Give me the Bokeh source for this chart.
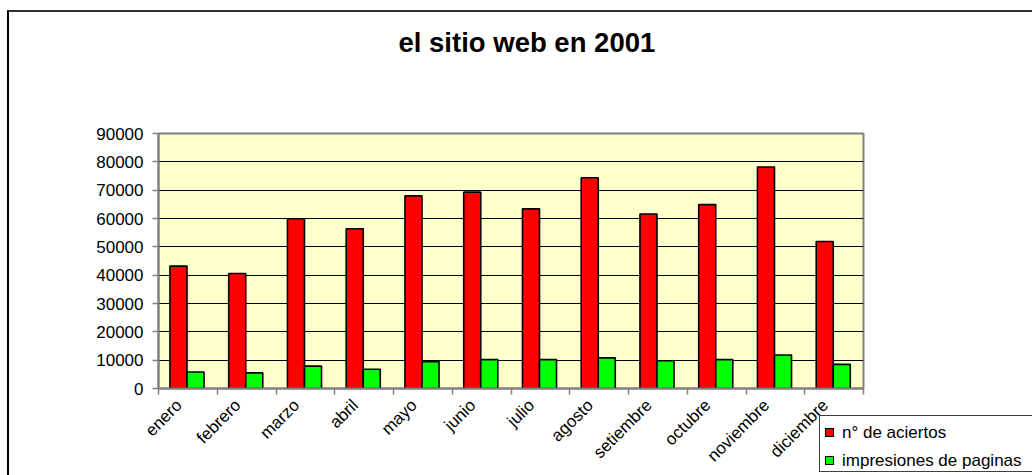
import numpy as np
from bokeh.plotting import figure
from bokeh.models import FixedTicker, Range1d, Div, GridBox, Title
from bokeh.embed import file_html
from bokeh.resources import INLINE

# ---- data ----
months = ["enero", "febrero", "marzo", "abril", "mayo", "junio", "julio",
          "agosto", "setiembre", "octubre", "noviembre", "diciembre"]
aciertos = [43200, 40600, 59900, 56400, 68000, 69300, 63400,
            74400, 61600, 64900, 78200, 51900]
impresiones = [5800, 5500, 7900, 6800, 9500, 10200, 10200,
               10800, 9800, 10200, 11800, 8500]
series_names = ["n° de aciertos", "impresiones de paginas"]
series_colors = ["#FF0000", "#00FF00"]
y_ticks = [0, 10000, 20000, 30000, 40000, 50000, 60000, 70000, 80000, 90000]
chart_title = "el sitio web en 2001"

FONT = "Liberation Sans"
n = len(months)
centers = np.arange(n) + 0.5
label_pos = [round(c - 0.15, 2) for c in centers]

p = figure(width=1032, height=475, output_backend="svg", toolbar_location=None,
           x_range=Range1d(0, n), y_range=Range1d(0, 90000),
           min_border_left=158, min_border_right=169,
           min_border_top=133, min_border_bottom=87)

p.background_fill_color = "#FFFFCC"
p.border_fill_color = "white"
p.outline_line_color = "#808080"
p.outline_line_width = 2

# spacer (nearest to the frame) then the real title above it
spacer = Title(text=" ", text_font=FONT, text_font_size="27.5px", standoff=38)
main_title = Title(text=chart_title, text_font=FONT, text_font_size="27.5px",
                   text_font_style="bold", text_color="black",
                   align="left", offset=240, standoff=10)
p.add_layout(spacer, "above")
p.add_layout(main_title, "above")

r1 = p.vbar(x=centers - 0.16, top=aciertos, width=0.29, bottom=0,
            fill_color=series_colors[0], line_color="black", line_width=1.6)
r2 = p.vbar(x=centers + 0.13, top=impresiones, width=0.29, bottom=0,
            fill_color=series_colors[1], line_color="black", line_width=1.6)

# y axis
p.yaxis.ticker = FixedTicker(ticks=y_ticks)
p.yaxis.minor_tick_line_color = None
p.yaxis.axis_line_color = "#808080"
p.yaxis.axis_line_width = 2
p.yaxis.major_tick_line_color = "#808080"
p.yaxis.major_tick_line_width = 1.5
p.yaxis.major_tick_out = 6
p.yaxis.major_tick_in = 0
p.yaxis.major_label_standoff = 9
p.yaxis.major_label_text_font = FONT
p.yaxis.major_label_text_font_size = "17px"
p.yaxis.major_label_text_color = "black"

# x axis: labels near category centres, ticks at category boundaries
p.xaxis.ticker = FixedTicker(ticks=label_pos, minor_ticks=list(range(n + 1)))
p.xaxis.major_label_overrides = {lp: m for lp, m in zip(label_pos, months)}
p.xaxis.major_label_orientation = np.pi / 4
p.xaxis.major_tick_line_color = None
p.xaxis.major_tick_out = 0
p.xaxis.major_tick_in = 0
p.xaxis.minor_tick_line_color = "#808080"
p.xaxis.minor_tick_line_width = 1.5
p.xaxis.minor_tick_out = 6
p.xaxis.minor_tick_in = 0
p.xaxis.axis_line_color = "#808080"
p.xaxis.axis_line_width = 2
p.xaxis.major_label_standoff = 8
p.xaxis.major_label_text_font = FONT
p.xaxis.major_label_text_font_size = "17px"
p.xaxis.major_label_text_color = "black"

p.xgrid.grid_line_color = None
p.ygrid.ticker = FixedTicker(ticks=y_ticks)
p.ygrid.grid_line_color = "black"
p.ygrid.grid_line_width = 1

# ---- legend box (overlaid on the lower right corner, runs off the right edge) ----
rows = "".join(
    f'<div style="height:28px;line-height:28px;white-space:nowrap;">'
    f'<span style="display:inline-block;box-sizing:border-box;width:9px;height:9px;'
    f'background:{c};border:1.5px solid black;margin:0 8px 0 5px;vertical-align:middle;"></span>'
    f'<span style="vertical-align:middle;">{name}</span></div>'
    for name, c in zip(series_names, series_colors))
legend_html = (f'<div style="box-sizing:border-box;width:213px;height:57px;'
               f'border:1px solid #404040;border-right:none;background:white;padding-top:2px;'
               f'font-family:\'{FONT}\';font-size:17px;color:black;overflow:visible;">'
               f'{rows}</div>')
legend_div = Div(text=legend_html, width=213, height=58, margin=(415, 0, 0, 819))

# outer chart-area frame (only its top and left edges fall inside the view)
frame_div = Div(text="", width=1025, height=465, margin=(10, 0, 0, 7),
                styles={"box-sizing": "border-box",
                        "border-top": "2px solid #303030",
                        "border-left": "2px solid black",
                        "border-right": "none", "border-bottom": "none",
                        "pointer-events": "none"})

page = GridBox(children=[(p, 0, 0), (legend_div, 0, 0), (frame_div, 0, 0)])

open("out.html", "w").write(file_html(page, INLINE))
